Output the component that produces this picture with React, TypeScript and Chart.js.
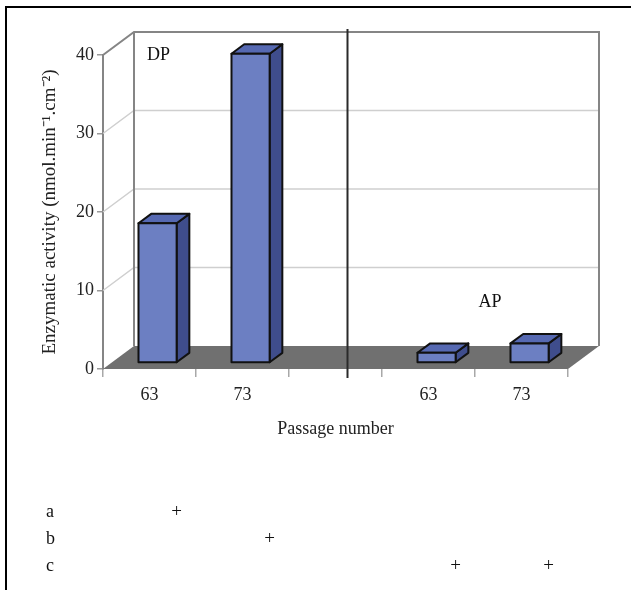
import React, { useEffect, useRef } from "react";
import { Chart, registerables } from "chart.js";

Chart.register(...registerables);

// ---- data ----
const categories = ["63", "73", "", "63", "73"];
const activity: (number | null)[] = [17.8, 39.4, null, 1.3, 2.5];
const yMin = 0;
const yMax = 40;
const yStep = 10;
const groupLabels = ["DP", "AP"];
const rowLabels = ["a", "b", "c"];
const rowA = [true, false, false, false, false];
const rowB = [false, true, false, false, false];
const rowC = [false, false, false, true, true];
const rowMarks = [rowA, rowB, rowC];

const FONT = "'Liberation Serif', 'Times New Roman', serif";
const DX = 31; // depth of floor/walls
const DY = -23;

const pseudo3d = {
  id: "pseudo3d",
  beforeDatasetsDraw(chart: any) {
    const { ctx, chartArea, scales } = chart;
    const { left, right, top, bottom } = chartArea;
    const y = scales.y;
    ctx.save();
    // back wall + left wall gridlines
    ctx.strokeStyle = "#cfcfcf";
    ctx.lineWidth = 1.5;
    for (let v = yMin + yStep; v < yMax; v += yStep) {
      const py = y.getPixelForValue(v);
      ctx.beginPath();
      ctx.moveTo(left, py);
      ctx.lineTo(left + DX, py + DY);
      ctx.lineTo(right + DX, py + DY);
      ctx.stroke();
    }
    // wall frame
    ctx.strokeStyle = "#858585";
    ctx.lineWidth = 2;
    ctx.beginPath();
    ctx.moveTo(left, top);
    ctx.lineTo(left + DX, top + DY);
    ctx.lineTo(right + DX, top + DY);
    ctx.lineTo(right + DX, bottom + DY);
    ctx.moveTo(left + DX, top + DY);
    ctx.lineTo(left + DX, bottom + DY);
    ctx.stroke();
    // floor
    ctx.fillStyle = "#707070";
    ctx.beginPath();
    ctx.moveTo(left, bottom);
    ctx.lineTo(left + DX, bottom + DY);
    ctx.lineTo(right + DX, bottom + DY);
    ctx.lineTo(right, bottom);
    ctx.closePath();
    ctx.fill();
    ctx.restore();
  },
  afterDatasetsDraw(chart: any) {
    const { ctx, chartArea, scales } = chart;
    const { left, top, bottom } = chartArea;
    const x = scales.x;
    const y = scales.y;
    const meta = chart.getDatasetMeta(0);
    const fdx = DX * 0.26;
    const fdy = DY * 0.26;
    const ddx = DX * 0.41;
    const ddy = DY * 0.41;
    ctx.save();
    ctx.lineJoin = "round";
    ctx.strokeStyle = "#111";
    ctx.lineWidth = 2;
    meta.data.forEach((el: any, i: number) => {
      if (activity[i] == null) return;
      const w = el.width;
      const l = el.x - w / 2 + fdx;
      const r = el.x + w / 2 + fdx;
      const t = el.y + fdy;
      const b = el.base + fdy;
      // side
      ctx.fillStyle = "#3f4d8c";
      ctx.beginPath();
      ctx.moveTo(r, t);
      ctx.lineTo(r + ddx, t + ddy);
      ctx.lineTo(r + ddx, b + ddy);
      ctx.lineTo(r, b);
      ctx.closePath();
      ctx.fill();
      ctx.stroke();
      // top
      ctx.fillStyle = "#5669b2";
      ctx.beginPath();
      ctx.moveTo(l, t);
      ctx.lineTo(l + ddx, t + ddy);
      ctx.lineTo(r + ddx, t + ddy);
      ctx.lineTo(r, t);
      ctx.closePath();
      ctx.fill();
      ctx.stroke();
      // front
      ctx.fillStyle = "#6c7fc2";
      ctx.beginPath();
      ctx.rect(l, t, r - l, b - t);
      ctx.fill();
      ctx.stroke();
    });
    // separator between groups (at blank category)
    const sepX = x.getPixelForValue(2) + 12;
    ctx.strokeStyle = "#2a2a2a";
    ctx.lineWidth = 2;
    ctx.beginPath();
    ctx.moveTo(sepX, top + DY - 3);
    ctx.lineTo(sepX, bottom + 9);
    ctx.stroke();
    // group labels
    ctx.fillStyle = "#111";
    ctx.font = `18px ${FONT}`;
    ctx.textBaseline = "middle";
    ctx.textAlign = "left";
    ctx.fillText(groupLabels[0], left + 44, y.getPixelForValue(yMax));
    ctx.fillText(groupLabels[1], x.getPixelForValue(3) + 50, y.getPixelForValue(8.5));
    ctx.restore();
  },
  afterDraw(chart: any) {
    const { ctx, scales, width, height } = chart;
    const x = scales.x;
    ctx.save();
    ctx.fillStyle = "#111";
    ctx.textBaseline = "middle";
    rowLabels.forEach((lab, r) => {
      const py = 512 + r * 27;
      ctx.font = `18px ${FONT}`;
      ctx.textAlign = "left";
      ctx.fillText(lab, 46, py);
      ctx.font = `19px ${FONT}`;
      ctx.textAlign = "center";
      rowMarks[r].forEach((m, i) => {
        if (m) ctx.fillText("+", x.getPixelForValue(i) + 27, py);
      });
    });
    // outer frame (top + left)
    ctx.strokeStyle = "#000";
    ctx.lineWidth = 2;
    ctx.beginPath();
    ctx.moveTo(width, 7);
    ctx.lineTo(6, 7);
    ctx.lineTo(6, height);
    ctx.stroke();
    ctx.restore();
  },
};

export default function App() {
  const ref = useRef<HTMLCanvasElement>(null);
  useEffect(() => {
    if (!ref.current) return;
    const chart = new Chart(ref.current, {
      type: "bar",
      data: {
        labels: categories,
        datasets: [
          {
            data: activity as any,
            backgroundColor: "rgba(0,0,0,0)",
            borderWidth: 0,
            categoryPercentage: 1,
            barPercentage: 0.41,
          },
        ],
      },
      options: {
        animation: false,
        responsive: false,
        devicePixelRatio: 1,
        layout: { autoPadding: false, padding: { top: 55, left: 0, right: 63, bottom: 150 } },
        plugins: { legend: { display: false }, tooltip: { enabled: false } },
        scales: {
          x: {
            offset: true,
            grid: { offset: true, drawOnChartArea: false, drawTicks: true, tickLength: 8, tickColor: "#a8a8a8", lineWidth: 1.5 },
            border: { display: false },
            ticks: { padding: 7, color: "#222", font: { family: FONT, size: 18 } },
            title: { display: true, text: "Passage number", color: "#222", font: { family: FONT, size: 18 }, padding: { top: 0, bottom: 0 } },
            afterFit: (s: any) => { s.height = 71; },
          },
          y: {
            min: yMin,
            max: yMax,
            ticks: { stepSize: yStep, padding: 3, color: "#222", font: { family: FONT, size: 18 } },
            grid: { drawOnChartArea: false, drawTicks: true, tickLength: 6, tickColor: "#999", lineWidth: 1.5 },
            border: { display: true, color: "#858585", width: 2 },
            title: { display: true, text: "Enzymatic activity (nmol.min⁻¹.cm⁻²)", color: "#222", font: { family: FONT, size: 19 }, padding: { top: 39, bottom: 0 } },
            afterFit: (s: any) => { s.width = 103; },
          },
        },
      },
      plugins: [pseudo3d],
    });
    return () => chart.destroy();
  }, []);
  return (
    <canvas
      ref={ref}
      width={631}
      height={590}
      style={{ position: "fixed", left: 0, top: 0, width: 631, height: 590, background: "#fff" }}
    />
  );
}
